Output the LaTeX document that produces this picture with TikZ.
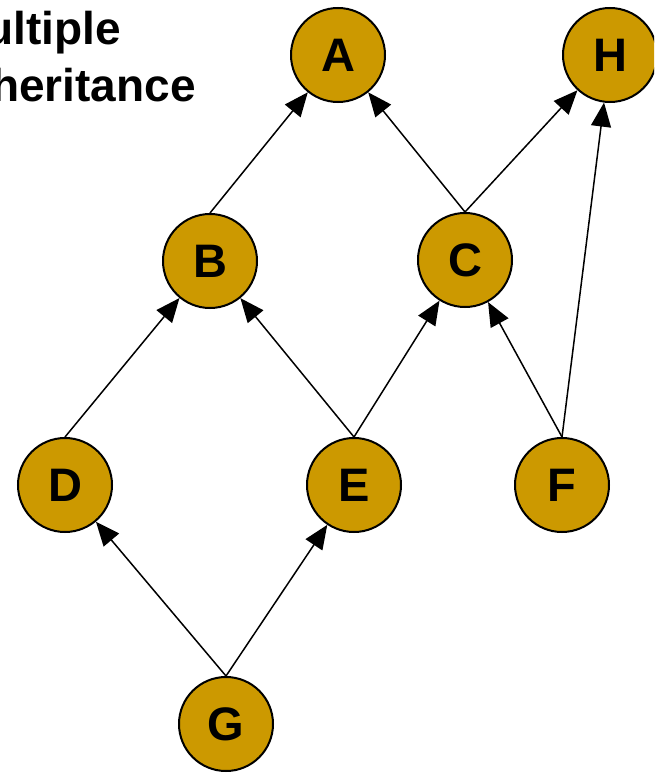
\documentclass[tikz,border=0pt]{standalone}
\usepackage{fontspec}
\setmainfont{Liberation Sans}
\usetikzlibrary{arrows.meta}
\definecolor{gold}{HTML}{CC9900}
\begin{document}
\begin{tikzpicture}[x=1pt,y=-1pt,
  cls/.style={circle,draw=black,line width=2pt,fill=gold,minimum size=94pt,inner sep=0pt,
    font=\fontsize{47}{47}\selectfont\bfseries},
  inh/.style={line width=1.5pt,-{Triangle[length=24pt,width=20pt]}},
  ttl/.style={font=\fontsize{46}{46}\selectfont\bfseries,anchor=base east,inner sep=0pt}]
\useasboundingbox (0,0) rectangle (654,773);
\clip (0,0) rectangle (654,773);
\node[ttl] (t1) at (121,45) {Multiple};
\node[ttl] (t2) at (196,102) {Inheritance};
\node[cls] (A) at (338,55) {A};
\node[cls] (H) at (610,55) {H};
\node[cls] (B) at (210,261) {B};
\node[cls] (C) at (465,260) {C};
\node[cls] (D) at (65,485) {D};
\node[cls] (E) at (354,485) {E};
\node[cls] (F) at (562,485) {F};
\node[cls] (G) at (226,724) {G};
\draw[inh] (B.north) -- (A);
\draw[inh] (C.north) -- (A);
\draw[inh] (C.north) -- (H);
\draw[inh] (D.north) -- (B);
\draw[inh] (E.north) -- (B);
\draw[inh] (E.north) -- (C);
\draw[inh] (F.north) -- (C);
\draw[inh] (F.north) -- (H);
\draw[inh] (G.north) -- (D);
\draw[inh] (G.north) -- (E);
\end{tikzpicture}
\end{document}
